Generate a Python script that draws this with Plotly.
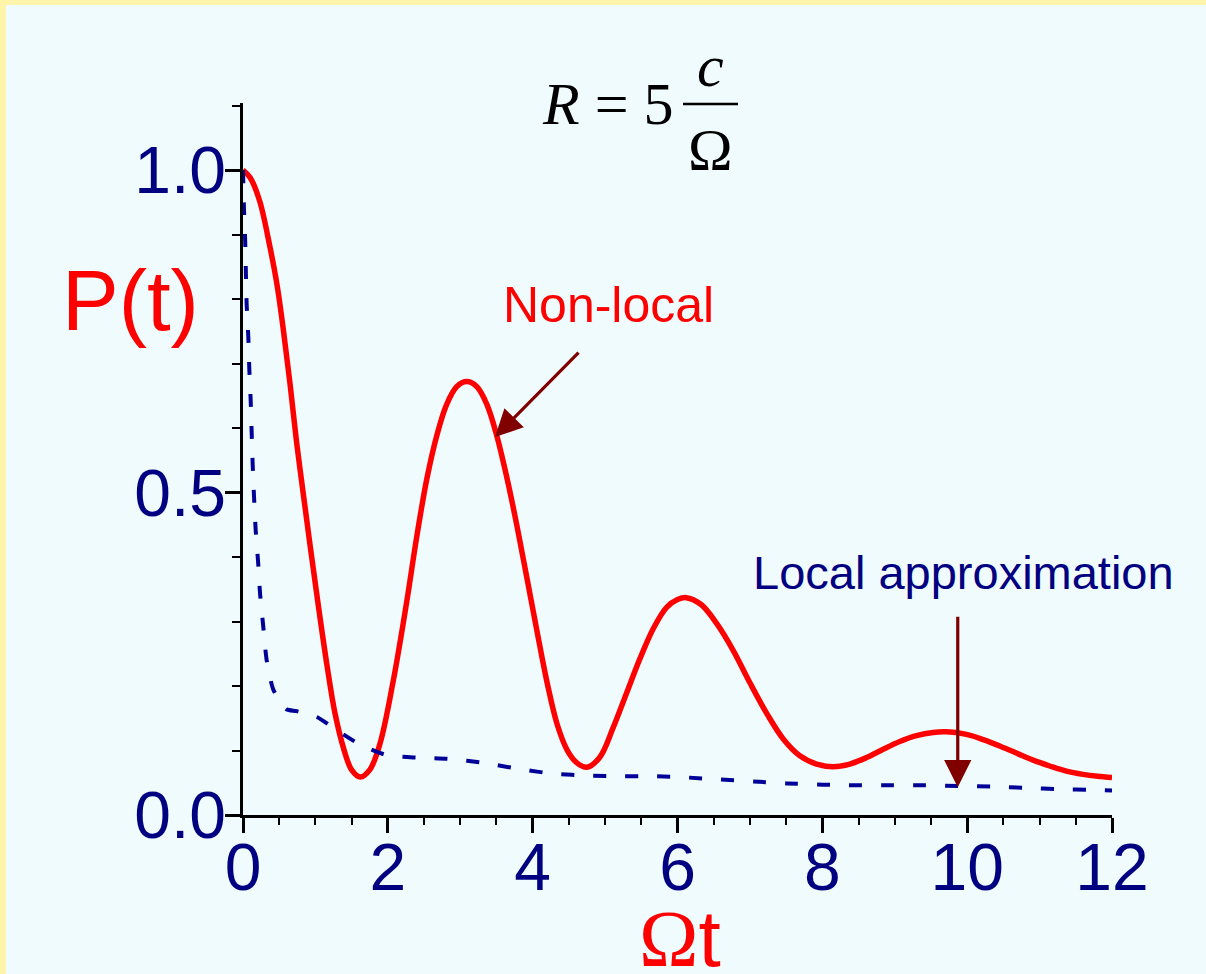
import plotly.graph_objects as go

# Survival probability P(t) versus dimensionless time Ωt, R = 5 c/Ω
t_nonlocal = [0.00, 0.10, 0.23, 0.37, 0.47, 0.56, 0.65, 0.74, 0.83, 0.93,
              1.04, 1.16, 1.27, 1.39, 1.50, 1.62, 1.75, 1.89, 2.07, 2.26,
              2.40, 2.54, 2.68, 2.81, 2.95, 3.09, 3.23, 3.37, 3.50, 3.64,
              3.78, 3.92, 4.06, 4.20, 4.34, 4.48, 4.62, 4.75, 4.93, 5.11,
              5.30, 5.48, 5.67, 5.85, 6.00, 6.12, 6.33, 6.54, 6.77, 7.00,
              7.23, 7.46, 7.69, 7.92, 8.15, 8.38, 8.61, 8.84, 9.07, 9.30,
              9.53, 9.71, 9.99, 10.22, 10.45, 10.68, 10.91, 11.14, 11.37, 11.60,
              11.80, 12.00]
p_nonlocal = [1.000, 0.988, 0.952, 0.882, 0.822, 0.750, 0.668, 0.578, 0.500, 0.415,
              0.325, 0.232, 0.158, 0.103, 0.070, 0.059, 0.070, 0.110, 0.205, 0.330,
              0.432, 0.522, 0.590, 0.636, 0.664, 0.672, 0.664, 0.636, 0.590, 0.525,
              0.450, 0.368, 0.285, 0.205, 0.140, 0.100, 0.080, 0.074, 0.090, 0.135,
              0.190, 0.242, 0.290, 0.322, 0.334, 0.337, 0.326, 0.297, 0.255, 0.205,
              0.158, 0.118, 0.092, 0.079, 0.075, 0.079, 0.089, 0.102, 0.114, 0.123,
              0.128, 0.129, 0.125, 0.117, 0.107, 0.096, 0.085, 0.076, 0.068, 0.063,
              0.060, 0.058]

t_local = [0.000, 0.014, 0.030, 0.040, 0.050, 0.073, 0.087, 0.106, 0.120, 0.134,
           0.150, 0.175, 0.210, 0.235, 0.280, 0.327, 0.420, 0.600, 0.740, 1.020,
           1.290, 1.620, 1.980, 2.400, 2.860, 3.320, 3.830, 4.290, 4.790, 5.210,
           5.690, 6.150, 6.590, 7.050, 7.510, 8.010, 8.470, 8.960, 9.420, 9.880,
           10.340, 10.820, 11.280, 11.740, 12.000]
p_local = [1.000, 0.938, 0.891, 0.840, 0.793, 0.742, 0.692, 0.643, 0.592, 0.543,
           0.499, 0.442, 0.390, 0.344, 0.292, 0.240, 0.194, 0.164, 0.161, 0.152,
           0.132, 0.109, 0.093, 0.089, 0.087, 0.081, 0.071, 0.064, 0.061, 0.060,
           0.060, 0.058, 0.055, 0.052, 0.049, 0.047, 0.046, 0.046, 0.046, 0.045,
           0.044, 0.042, 0.040, 0.039, 0.038]

x_ticks = [0, 2, 4, 6, 8, 10, 12]
y_ticks = [0.0, 0.5, 1.0]

# arrow tips (data units) and tail offsets (pixels)
arrow_nonlocal = dict(x=3.48, y=0.586, ax=85, ay=-86)
arrow_local = dict(x=9.87, y=0.043, ax=0, ay=-172)

W, H = 1206, 974
L, R, T, B = 243, 94, 103, 159
BG = "#effbfc"
BORDER = "#fff5aa"
NAVY = "#000080"
RED = "#ff0000"
SANS = "Arial, Liberation Sans, sans-serif"
SERIF = "Times New Roman, Liberation Serif, serif"


def px(x):
    return (x - L) / (W - L - R)


def py(y):
    return (H - B - y) / (H - T - B)


fig = go.Figure()
fig.add_trace(go.Scatter(
    x=t_nonlocal, y=p_nonlocal, mode="lines", name="Non-local",
    line=dict(color=RED, width=5.5, shape="spline", smoothing=1.0),
    hoverinfo="skip"))
fig.add_trace(go.Scatter(
    x=t_local, y=p_local, mode="lines", name="Local approximation",
    line=dict(color="#000099", width=4, dash="13px,19px",
              shape="spline", smoothing=0.6),
    hoverinfo="skip"))

axis_common = dict(
    showline=True, linecolor="black", linewidth=2.5,
    ticks="outside", ticklen=15, tickwidth=2.5, tickcolor="black",
    showgrid=False, zeroline=False,
    tickfont=dict(family=SANS, size=66, color=NAVY),
)
fig.update_xaxes(
    range=[0, 12], tickvals=x_ticks, ticklabelstandoff=-22,
    minor=dict(dtick=0.5, ticks="outside", ticklen=7, tickwidth=2, tickcolor="black"),
    **axis_common)
fig.update_yaxes(
    range=[0, 1.104], tickvals=y_ticks, tickformat=".1f", ticklabelstandoff=-14,
    minor=dict(dtick=0.1, ticks="outside", ticklen=8, tickwidth=2, tickcolor="black"),
    **axis_common)

annotations = [
    dict(xref="paper", yref="paper", x=px(130), y=py(300), text="P(t)",
         font=dict(family=SANS, size=85, color=RED)),
    dict(xref="paper", yref="paper", x=px(680), y=py(938),
         text=f"<span style='font-family:{SERIF}'>Ω</span>t",
         font=dict(family=SANS, size=80, color=RED)),
    dict(xref="paper", yref="paper", x=px(608), y=py(305), text="Non-local",
         font=dict(family=SANS, size=50, color=RED)),
    dict(xref="paper", yref="paper", x=px(963), y=py(572), text="Local approximation",
         font=dict(family=SANS, size=47, color=NAVY)),
    dict(xref="paper", yref="paper", x=px(676), y=py(104), xanchor="right",
         text="<i>R</i> = 5", font=dict(family=SERIF, size=60, color="black")),
    dict(xref="paper", yref="paper", x=px(710), y=py(66), text="<i>c</i>",
         font=dict(family=SERIF, size=60, color="black")),
    dict(xref="paper", yref="paper", x=px(710), y=py(150), text="Ω",
         font=dict(family=SERIF, size=60, color="black")),
]
for a in annotations:
    a.setdefault("showarrow", False)
    a.setdefault("xanchor", "center")
    a.setdefault("yanchor", "middle")

for arr in (arrow_nonlocal, arrow_local):
    annotations.append(dict(
        xref="x", yref="y", x=arr["x"], y=arr["y"], ax=arr["ax"], ay=arr["ay"],
        axref="pixel", ayref="pixel", text="", showarrow=True,
        arrowhead=2, arrowsize=1.7, arrowwidth=3.2, arrowcolor="#800000"))

shapes = [
    # fraction bar
    dict(type="line", xref="paper", yref="paper",
         x0=px(683), x1=px(738), y0=py(104), y1=py(104),
         line=dict(color="black", width=2.5)),
    # pale yellow frame strips
    dict(type="rect", xref="paper", yref="paper", layer="below",
         x0=px(0), x1=px(6), y0=py(H), y1=py(0),
         fillcolor=BORDER, line=dict(width=0)),
    dict(type="rect", xref="paper", yref="paper", layer="below",
         x0=px(0), x1=px(W), y0=py(5), y1=py(0),
         fillcolor=BORDER, line=dict(width=0)),
]

fig.update_layout(
    width=W, height=H,
    margin=dict(l=L, r=R, t=T, b=B, pad=0),
    paper_bgcolor=BG, plot_bgcolor=BG,
    showlegend=False,
    annotations=annotations,
    shapes=shapes,
)

fig.write_html("out.html", config={"displayModeBar": False})
